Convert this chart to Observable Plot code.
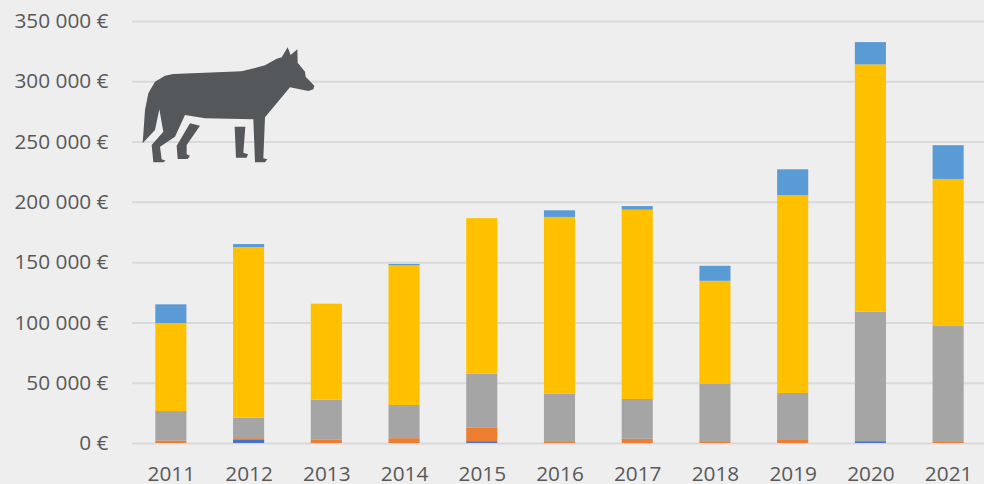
<!DOCTYPE html>
<html>
<head>
<meta charset="utf-8">
<script src="https://cdn.jsdelivr.net/npm/d3@7"></script>
<script src="https://cdn.jsdelivr.net/npm/@observablehq/plot@0.6"></script>
<style>
html,body{margin:0;padding:0;background:#eeeeee;overflow:hidden}
#wrap{position:relative;width:984px;height:484px}
#wrap svg{display:block}
#wolf{position:absolute;left:130px;top:30px;width:200px;height:140px}
</style>
</head>
<body>
<div id="wrap"></div>
<script>
const years = ["2011","2012","2013","2014","2015","2016","2017","2018","2019","2020","2021"];
const seriesNames = ["Blue","Orange","Grey","Yellow","Light blue"];
const colors = ["#4472c4","#ed7d31","#a5a5a5","#ffc000","#5b9bd5"];
const blue      = [0,2500,0,0,1500,0,0,0,0,1500,0];
const orange    = [2000,1500,3000,4000,11500,1500,3500,1500,2500,0,1500];
const grey      = [24500,17000,33000,27500,44500,39500,33000,47500,39000,107500,95500];
const yellow    = [73000,141500,79500,116000,129000,146500,157000,85500,164000,205000,122000];
const lightBlue = [15500,2500,0,1000,0,5500,3000,12500,21500,18500,28000];
const yTicks = [0,50000,100000,150000,200000,250000,300000,350000];

const columns = [blue,orange,grey,yellow,lightBlue];
const rows = seriesNames.flatMap((s,i)=>years.map((y,j)=>({year:y,series:s,value:columns[i][j]})));
const fmt = d => String(d).replace(/\B(?=(\d{3})+$)/g,"\u00a0") + "\u00a0€";

const chart = Plot.plot({
  width:984, height:484,
  marginLeft:132, marginRight:-3, marginTop:21, marginBottom:41,
  style:{background:"#eeeeee",fontFamily:"'Open Sans',sans-serif",fontSize:"20.8px",color:"#595959"},
  x:{type:"band",domain:years,round:false,paddingInner:0.6,paddingOuter:0.3,align:0.5},
  y:{domain:[0,350000]},
  color:{domain:seriesNames,range:colors},
  marks:[
    Plot.ruleY(yTicks,{stroke:"#d9d9d9",strokeWidth:2}),
    Plot.barY(rows,{x:"year",y:"value",fill:"series",order:seriesNames}),
    Plot.axisY({ticks:yTicks,tickFormat:fmt,tickSize:0,tickPadding:24,label:null,fill:"#595959"}),
    Plot.axisX({tickSize:0,tickPadding:23,label:null,fill:"#595959"})
  ]
});
document.getElementById("wrap").appendChild(chart);

const wolfParts = [
 "M38,340L45,240L55,190L75,155L105,137L130,132L335,124L405,106L440,86L455,82L473,52L482,75L502,58L503,98L525,125L527,140L553,167L550,178L535,183L480,172L405,262L400,385L412,388L405,397L375,397L370,268L225,265L165,255L135,320L90,350L95,388L107,392L100,397L70,397L65,345L100,305L88,238L75,300Z",
 "M180,280L210,287L170,345L170,373L180,377L173,387L143,387L140,347Z",
 "M314,290L346,290L340,368L354,373L350,383L318,383Z"
];
const ns="http://www.w3.org/2000/svg";
const wolf=document.createElementNS(ns,"svg");
wolf.setAttribute("id","wolf");
wolf.setAttribute("viewBox","0 0 600 420");
for(const d of wolfParts){
  const p=document.createElementNS(ns,"path");
  p.setAttribute("d",d);p.setAttribute("fill","#54585a");
  wolf.appendChild(p);
}
document.getElementById("wrap").appendChild(wolf);
</script>
</body>
</html>
